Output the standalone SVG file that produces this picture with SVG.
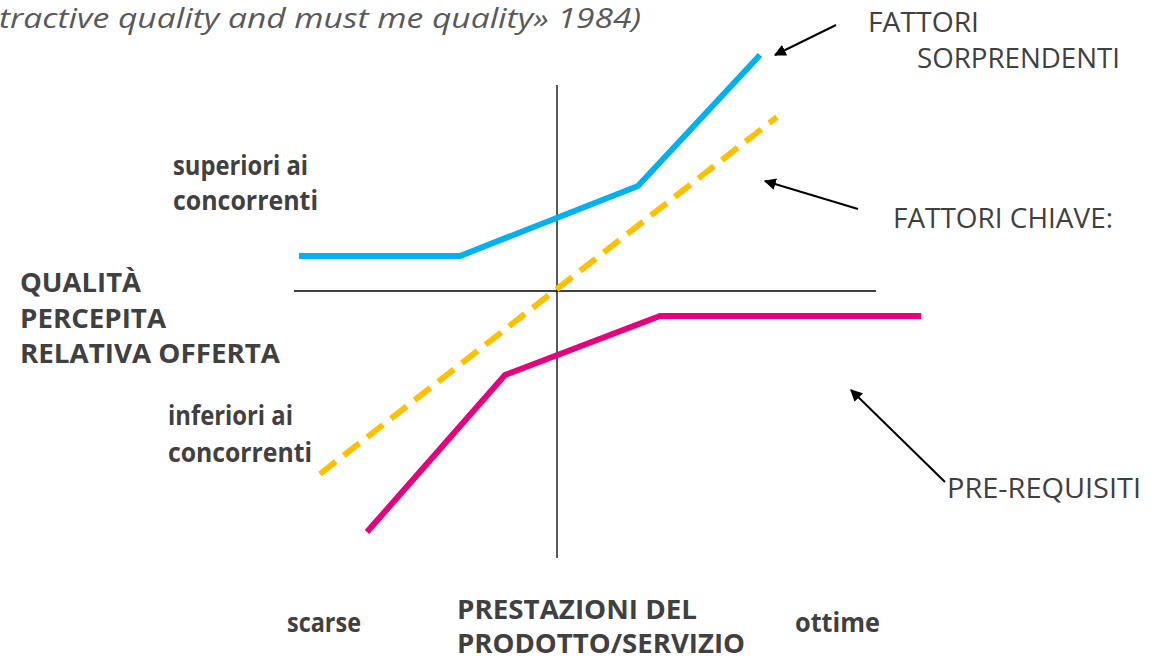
<svg xmlns="http://www.w3.org/2000/svg" width="1154" height="659" viewBox="0 0 1154 659">
<style>
.lbl{font-family:"Open Sans","Liberation Sans",sans-serif;font-size:27px;fill:#404040}
.b{font-weight:bold;font-size:26px}
.ax{stroke:#000;stroke-width:1.3;fill:none}
.ar{stroke:#000;stroke-width:2;fill:none;marker-end:url(#ah)}
</style>
<defs>
<marker id="ah" viewBox="0 0 10 10" refX="9" refY="5" markerWidth="6" markerHeight="6" orient="auto" markerUnits="strokeWidth">
<path d="M0,0 L10,5 L0,10 z" fill="#000"/>
</marker>
</defs>
<rect width="1154" height="659" fill="#fff"/>
<text x="-1" y="28" textLength="642" lengthAdjust="spacingAndGlyphs" style="font-family:'Open Sans','Liberation Sans',sans-serif;font-size:28px;font-style:italic;fill:#595959">tractive quality and must me quality» 1984)</text>
<g id="axes">
<line class="ax" x1="557" y1="85" x2="557" y2="558"/>
<line class="ax" x1="294" y1="291" x2="876" y2="291"/>
</g>
<g id="curves">
<polyline id="sorprendenti" points="299,256 460,256 638,186 760,55" fill="none" stroke="#00B0F0" stroke-width="6"/>
<line id="chiave" x1="320" y1="474" x2="777" y2="117" stroke="#FFC000" stroke-width="6" stroke-dasharray="20,10"/>
<polyline id="prerequisiti" points="367,532 505,375 660,316 921,316" fill="none" stroke="#E6007E" stroke-width="6"/>
</g>
<g id="connectors">
<line class="ar" x1="836" y1="25" x2="775" y2="55"/>
<line class="ar" x1="858" y1="209" x2="765" y2="181"/>
<line class="ar" x1="945" y1="482" x2="851" y2="390"/>
</g>
<g id="node-fattori-sorprendenti">
<text class="lbl" x="868" y="32" textLength="111" lengthAdjust="spacingAndGlyphs">FATTORI</text>
<text class="lbl" x="917" y="68" textLength="203" lengthAdjust="spacingAndGlyphs">SORPRENDENTI</text>
</g>
<g id="node-fattori-chiave">
<text class="lbl" x="893" y="228" textLength="220" lengthAdjust="spacingAndGlyphs">FATTORI CHIAVE:</text>
</g>
<g id="node-prerequisiti">
<text class="lbl" x="947" y="498" textLength="194" lengthAdjust="spacingAndGlyphs">PRE-REQUISITI</text>
</g>
<g id="node-superiori">
<text class="lbl b" x="173" y="175" textLength="135" lengthAdjust="spacingAndGlyphs">superiori ai</text>
<text class="lbl b" x="173" y="210" textLength="145" lengthAdjust="spacingAndGlyphs">concorrenti</text>
</g>
<g id="node-qualita">
<text class="lbl b" x="20" y="292" textLength="121" lengthAdjust="spacingAndGlyphs">QUALITÀ</text>
<text class="lbl b" x="20" y="328" textLength="146" lengthAdjust="spacingAndGlyphs">PERCEPITA</text>
<text class="lbl b" x="20" y="363" textLength="260" lengthAdjust="spacingAndGlyphs">RELATIVA OFFERTA</text>
</g>
<g id="node-inferiori">
<text class="lbl b" x="168" y="425" textLength="125" lengthAdjust="spacingAndGlyphs">inferiori ai</text>
<text class="lbl b" x="168" y="462" textLength="144" lengthAdjust="spacingAndGlyphs">concorrenti</text>
</g>
<g id="node-scarse"><text class="lbl b" x="287" y="632" textLength="74" lengthAdjust="spacingAndGlyphs">scarse</text></g>
<g id="node-prestazioni">
<text class="lbl b" x="457" y="619" textLength="240" lengthAdjust="spacingAndGlyphs">PRESTAZIONI DEL</text>
<text class="lbl b" x="457" y="653" textLength="288" lengthAdjust="spacingAndGlyphs">PRODOTTO/SERVIZIO</text>
</g>
<g id="node-ottime"><text class="lbl b" x="795" y="632" textLength="85" lengthAdjust="spacingAndGlyphs">ottime</text></g>
</svg>
